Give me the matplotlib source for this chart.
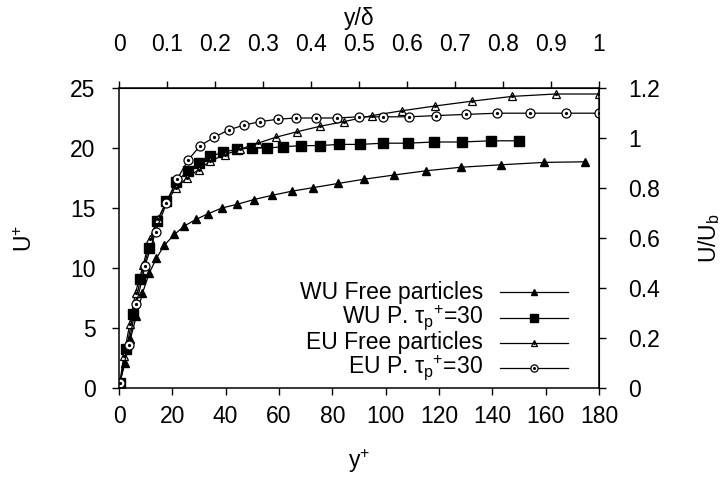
import matplotlib
matplotlib.use('Agg')
import matplotlib.pyplot as plt
from matplotlib.lines import Line2D
from matplotlib.ticker import FuncFormatter

plt.rcParams['font.family'] = ['Liberation Sans', 'DejaVu Sans']
plt.rcParams['mathtext.fontset'] = 'custom'
plt.rcParams['mathtext.rm'] = 'Liberation Sans'
plt.rcParams['mathtext.it'] = 'Liberation Sans'
plt.rcParams['mathtext.bf'] = 'Liberation Sans:bold'

# ------------------------------------------------------------
# data
# ------------------------------------------------------------
wu_free_y = [0.3, 2.2, 4.3, 6.5, 8.8, 11.3, 14.0, 17.0, 20.8, 24.5, 28.9, 33.2, 38.6,
             44.2, 50.5, 57.3, 64.8, 72.9, 82.3, 92.0, 103.2, 115.1, 128.4, 143.2,
             159.4, 174.8]
wu_free_u = [0.4, 2.1, 4.1, 6.0, 7.9, 9.55, 10.8, 11.9, 12.8, 13.5, 14.05, 14.5, 15.0,
             15.3, 15.7, 16.05, 16.4, 16.7, 17.05, 17.4, 17.75, 18.1, 18.4, 18.6,
             18.8, 18.85]

wu_p30_y = [0.3, 2.8, 5.3, 8.0, 11.2, 14.4, 17.8, 21.5, 25.7, 29.9, 34.2, 39.0, 44.2,
            49.8, 55.5, 61.4, 68.2, 75.2, 82.6, 90.4, 99.1, 108.2, 118.1, 128.7,
            139.4, 150.0]
wu_p30_u = [0.4, 3.25, 6.2, 9.05, 11.65, 13.9, 15.55, 17.2, 18.05, 18.75, 19.3, 19.65,
            19.9, 20.0, 20.0, 20.1, 20.2, 20.2, 20.3, 20.3, 20.4, 20.4, 20.5, 20.5,
            20.6, 20.6]

eu_free_y = [0.3, 1.8, 4.0, 6.2, 9.1, 11.5, 14.5, 17.8, 21.5, 25.5, 29.9, 34.2, 39.7,
             45.5, 52.0, 58.9, 66.7, 75.2, 84.4, 94.8, 106.0, 118.5, 132.3, 147.4,
             163.7, 179.9]
eu_free_u = [0.4, 2.7, 5.3, 7.95, 10.25, 12.4, 14.05, 15.5, 16.7, 17.5, 18.2, 18.9,
             19.45, 19.9, 20.4, 20.9, 21.35, 21.8, 22.2, 22.7, 23.1, 23.5, 23.9, 24.3,
             24.5, 24.5]

eu_p30_y = [0.3, 3.6, 6.5, 9.8, 13.7, 17.8, 21.8, 25.9, 30.5, 35.7, 41.1, 46.7, 53.0,
            59.6, 66.4, 73.9, 81.7, 90.1, 99.1, 108.8, 118.8, 130.1, 141.8, 154.0,
            167.5, 179.9]
eu_p30_u = [0.4, 3.6, 7.0, 10.2, 13.0, 15.4, 17.4, 19.0, 20.2, 20.9, 21.5, 21.9, 22.2,
            22.4, 22.5, 22.5, 22.5, 22.6, 22.6, 22.6, 22.7, 22.8, 22.9, 22.9, 22.9,
            22.9]

labels = ['WU Free particles',
          r'WU P. $\tau_{p}{}^{+}$=30',
          'EU Free particles',
          r'EU P. $\tau_{p}{}^{+}$=30']

YPLUS_MAX = 180.0     # y+ at y/delta = 1
UB_PLUS = 25.0 / 1.2  # U_b in wall units

FS = 16.5

# ------------------------------------------------------------
# figure
# ------------------------------------------------------------
fig = plt.figure(figsize=(7.24, 4.78), dpi=100)
ax = fig.add_axes([119 / 724, 1 - 388 / 478, 480 / 724, 300 / 478])

styles = [
    dict(marker='^', ms=5.5, mfc='black', mec='black'),
    dict(marker='s', ms=6.5, mfc='black', mec='black'),
    dict(marker='^', ms=6.0, mfc='white', mec='black', mew=0.9),
    dict(marker='o', ms=6.5, mfc='white', mec='black', mew=0.9),
]
series = [(wu_free_y, wu_free_u), (wu_p30_y, wu_p30_u),
          (eu_free_y, eu_free_u), (eu_p30_y, eu_p30_u)]

for (x, u), st in zip(series, styles):
    ax.plot(x, u, color='black', lw=0.9, **st)
    if st['mfc'] == 'white':
        # gnuplot open symbols carry a centre dot
        ax.plot(x, u, ls='none', marker='o', ms=1.3, color='black')

ax.set_xlim(0, YPLUS_MAX)
ax.set_ylim(0, 25)
ax.set_xticks(range(0, 181, 20))
ax.set_yticks(range(0, 26, 5))
ax.tick_params(direction='out', length=5, width=1, labelsize=FS)
ax.tick_params(axis='x', pad=7)
ax.tick_params(axis='y', pad=12)
for sp in ax.spines.values():
    sp.set_linewidth(1.1)

ax.set_xlabel(r'y$^{+}$', fontsize=FS, labelpad=14)
ax.set_ylabel(r'U$^{+}$', fontsize=FS, labelpad=24)

fmt = FuncFormatter(lambda v, p: '%g' % round(v, 3))

top = ax.secondary_xaxis('top', functions=(lambda x: x / YPLUS_MAX,
                                           lambda d: d * YPLUS_MAX))
top.set_xticks([i / 10 for i in range(11)])
top.xaxis.set_major_formatter(fmt)
top.tick_params(direction='out', length=5, width=1, labelsize=FS, pad=18)
top.set_xlabel('y/δ', fontsize=FS, labelpad=6)

right = ax.secondary_yaxis('right', functions=(lambda u: u / UB_PLUS,
                                               lambda r: r * UB_PLUS))
right.set_yticks([i / 5 for i in range(7)])
right.yaxis.set_major_formatter(fmt)
right.tick_params(direction='out', length=5, width=1, labelsize=FS, pad=16)
right.set_ylabel(r'U/U$_{b}$', fontsize=FS, labelpad=26)

# gnuplot-style key: right-aligned text, sample line with the symbol in the middle
key_rows = [0.32, 0.233, 0.15, 0.067]
for lab, st, yk in zip(labels, styles, key_rows):
    ax.text(0.758, yk, lab, transform=ax.transAxes, ha='right', va='center',
            fontsize=FS)
    ax.add_line(Line2D([0.794, 0.935], [yk, yk], transform=ax.transAxes,
                       color='black', lw=0.9))
    ax.add_line(Line2D([0.865], [yk], transform=ax.transAxes, color='black',
                       ls='none', **{k: (v * 0.8 if k == 'ms' else v)
                                     for k, v in st.items()}))
    if st['mfc'] == 'white':
        ax.add_line(Line2D([0.865], [yk], transform=ax.transAxes, ls='none',
                           marker='o', ms=1.2, color='black'))

fig.savefig('out.png', dpi=100)
